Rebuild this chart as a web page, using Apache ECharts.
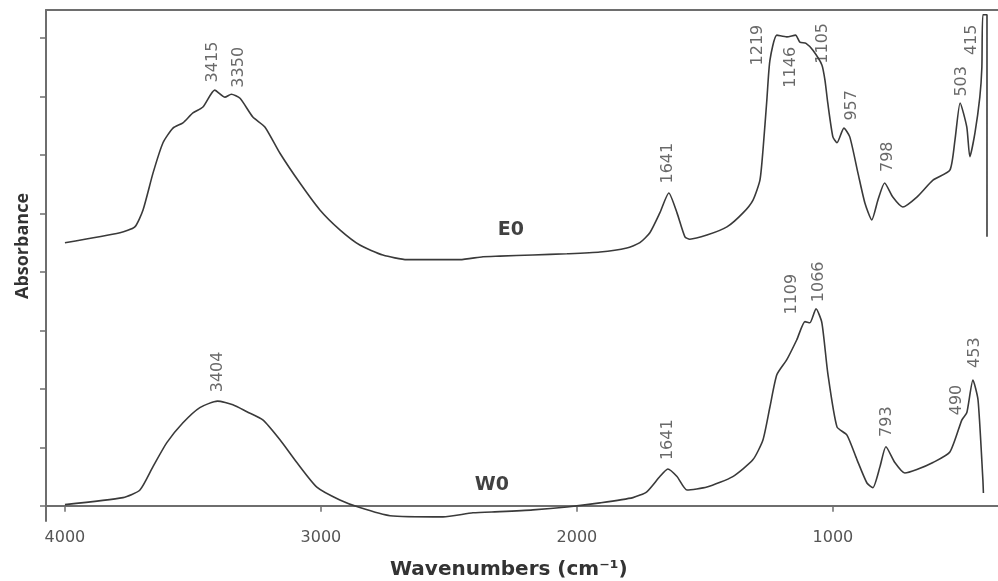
<!DOCTYPE html>
<html><head><meta charset="utf-8">
<script src="https://cdn.jsdelivr.net/npm/echarts@6/dist/echarts.min.js"></script>
<style>html,body{margin:0;padding:0;background:#fff}#c{width:998px;height:581px}</style>
</head><body><div id="c"></div>
<script>
// ---------- data ----------
const e0Wavenumbers = [4000,3785,3727,3695,3656,3617,3578,3539,3500,3461,3415,3375,3350,3316,3266,3219,3160,3082,3004,2926,2848,2758,2664,2457,2367,2301,2172,2039,1910,1805,1754,1715,1676,1641,1609,1578,1559,1492,1414,1351,1312,1285,1273,1258,1246,1219,1180,1146,1129,1105,1078,1043,1031,1020,1000,984,957,934,902,875,848,824,798,766,727,672,609,543,523,503,477,465,445,426,418,414,398,398];
const e0Absorbance  = [4.50,4.67,4.77,5.06,5.69,6.21,6.46,6.55,6.72,6.82,7.11,6.99,7.04,6.97,6.65,6.48,6.03,5.52,5.06,4.72,4.46,4.29,4.21,4.21,4.26,4.27,4.29,4.31,4.34,4.41,4.50,4.67,5.01,5.35,5.01,4.60,4.56,4.63,4.77,5.01,5.23,5.57,6.09,6.94,7.62,8.05,8.02,8.05,7.93,7.91,7.79,7.54,7.28,6.89,6.31,6.21,6.46,6.31,5.69,5.18,4.89,5.23,5.52,5.28,5.11,5.28,5.57,5.74,6.26,6.89,6.48,5.97,6.38,6.99,7.50,8.40,8.40,4.60];

const w0Wavenumbers = [4000,3773,3707,3656,3602,3539,3473,3404,3344,3289,3227,3160,3094,3016,2926,2848,2730,2523,2406,2301,2172,2039,1910,1781,1727,1676,1645,1609,1570,1492,1391,1312,1273,1246,1219,1180,1141,1109,1090,1066,1043,1020,984,945,906,867,844,816,793,758,719,672,609,543,496,477,453,433,414,412];
const w0Absorbance  = [0.02,0.14,0.27,0.67,1.08,1.42,1.68,1.79,1.73,1.61,1.47,1.13,0.74,0.32,0.10,-0.03,-0.17,-0.19,-0.12,-0.10,-0.07,-0.02,0.05,0.14,0.24,0.50,0.63,0.50,0.27,0.32,0.50,0.79,1.13,1.69,2.24,2.50,2.84,3.15,3.13,3.37,3.13,2.27,1.35,1.21,0.79,0.39,0.31,0.67,1.01,0.74,0.56,0.62,0.74,0.92,1.47,1.59,2.15,1.81,0.44,0.22];

const xTickValues = [1000, 2000, 3000, 4000];
const yTickValues = [0, 1, 2, 3, 4, 5, 6, 7, 8];
const e0PeakLabels = ['3415','3350','1641','1219','1146','1105','957','798','503','415'];
const w0PeakLabels = ['3404','1641','1109','1066','793','490','453'];
const sampleNames = ['E0', 'W0'];

// ---------- layout (label anchors, in axis coordinates) ----------
const e0PeakAnchors = [[3422,7.59],[3320,7.50],[1645,5.86],[1293,7.88],[1164,7.50],[1039,7.91],[926,6.85],[785,5.97],[496,7.26],[457,7.97]];
const w0PeakAnchors = [[3402,2.29],[1645,1.13],[1160,3.62],[1055,3.83],[789,1.44],[516,1.81],[445,2.62]];
const sampleNameAnchors = [[2258,4.72],[2332,0.36]];

const zip = (a, b) => a.map((v, i) => [v, b[i]]);
const lineColor = '#3a3a3a';
const axisColor = '#6e6e6e';

const peakData = e0PeakLabels.map((t, i) => ({ value: e0PeakAnchors[i], name: t }))
  .concat(w0PeakLabels.map((t, i) => ({ value: w0PeakAnchors[i], name: t })));
const nameData = sampleNames.map((t, i) => ({ value: sampleNameAnchors[i], name: t }));

const chart = echarts.init(document.getElementById('c'), null, { renderer: 'canvas' });
chart.setOption({
  animation: false,
  backgroundColor: '#fff',
  grid: { left: 46, right: 0, top: 10, bottom: 60 },
  xAxis: [{
    type: 'value', min: 355, max: 4074, inverse: true,
    axisLine: { show: true, lineStyle: { color: axisColor, width: 2 } },
    axisTick: { show: true, customValues: xTickValues, length: 6, lineStyle: { color: axisColor, width: 1.5 } },
    axisLabel: { show: true, customValues: xTickValues, formatter: v => String(v), margin: 9,
                 color: '#555', fontFamily: 'DejaVu Sans', fontSize: 16 },
    splitLine: { show: false }
  }, {
    type: 'value', position: 'top', min: 355, max: 4074, inverse: true,
    axisLine: { show: true, lineStyle: { color: axisColor, width: 2 } },
    axisTick: { show: false }, axisLabel: { show: false }, splitLine: { show: false }
  }],
  yAxis: {
    type: 'value', min: -0.26, max: 8.48,
    axisLine: { show: true, lineStyle: { color: axisColor, width: 2 } },
    axisTick: { show: true, customValues: yTickValues, length: 6, lineStyle: { color: axisColor, width: 1.5 } },
    axisLabel: { show: false },
    splitLine: { show: false }
  },
  series: [
    { name: 'E0', type: 'line', data: zip(e0Wavenumbers, e0Absorbance), showSymbol: false, smooth: 0.2,
      lineStyle: { color: lineColor, width: 1.6 }, silent: true },
    { name: 'W0', type: 'line', data: zip(w0Wavenumbers, w0Absorbance), showSymbol: false, smooth: 0.2,
      lineStyle: { color: lineColor, width: 1.6 }, silent: true },
    { type: 'scatter', data: peakData, symbolSize: 0, silent: true,
      label: { show: true, position: 'inside', rotate: 90, formatter: p => p.name,
               color: '#444', fontFamily: 'DejaVu Sans', fontSize: 16 } },
    { type: 'scatter', data: nameData, symbolSize: 0, silent: true,
      label: { show: true, position: 'inside', formatter: p => p.name,
               color: '#111', fontFamily: 'DejaVu Sans', fontWeight: 'bold', fontSize: 19 } }
  ],
  graphic: [
    { type: 'text', left: 509 - 119, top: 560,
      style: { text: 'Wavenumbers (cm⁻¹)', font: 'bold 20px "DejaVu Sans"', fill: '#333' } },
    { type: 'text', x: 23, y: 246, rotation: Math.PI / 2,
      style: { text: 'Absorbance', font: 'bold 18px "Open Sans"', fill: '#333', align: 'center', verticalAlign: 'middle' } }
  ]
});
</script></body></html>
